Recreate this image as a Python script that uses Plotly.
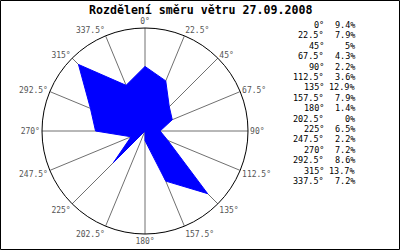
import plotly.graph_objects as go

directions = [0, 22.5, 45, 67.5, 90, 112.5, 135, 157.5, 180, 202.5, 225, 247.5, 270, 292.5, 315, 337.5]
dir_labels = ["0°", "22.5°", "45°", "67.5°", "90°", "112.5°", "135°", "157.5°", "180°", "202.5°",
              "225°", "247.5°", "270°", "292.5°", "315°", "337.5°"]
pct_values = [9.4, 7.9, 5, 4.3, 2.2, 3.6, 12.9, 7.9, 1.4, 0, 6.5, 2.2, 7.2, 8.6, 13.7, 7.2]
pct_labels = ["9.4%", "7.9%", "5%", "4.3%", "2.2%", "3.6%", "12.9%", "7.9%", "1.4%", "0%",
              "6.5%", "2.2%", "7.2%", "8.6%", "13.7%", "7.2%"]
title_text = "Rozdělení směru větru 27.09.2008"

W, H = 400, 250
fig = go.Figure()
fig.add_trace(go.Scatterpolar(
    r=pct_values + [pct_values[0]],
    theta=directions + [directions[0]],
    mode="lines",
    fill="toself",
    fillcolor="#0000ff",
    line=dict(color="#0000ff", width=1),
    hoverinfo="skip",
))

mono = "DejaVu Sans Mono"
fig.update_layout(
    width=W, height=H,
    margin=dict(l=0, r=0, t=0, b=0),
    paper_bgcolor="white",
    plot_bgcolor="white",
    showlegend=False,
    polar=dict(
        domain=dict(x=[42 / W, 248 / W], y=[1 - 234 / H, 1 - 28 / H]),
        bgcolor="white",
        radialaxis=dict(range=[0, 15], visible=False, showgrid=False),
        angularaxis=dict(
            direction="clockwise", rotation=90,
            tickmode="array", tickvals=directions, ticktext=dir_labels,
            showgrid=True, gridcolor="#707070", gridwidth=1,
            showline=True, linecolor="black", linewidth=1,
            ticks="", tickfont=dict(family=mono, size=8, color="#555555"),
        ),
    ),
)

fig.add_annotation(x=200 / W, y=1 - 10 / H, xref="paper", yref="paper",
                   text="<b>" + title_text + "</b>", showarrow=False,
                   font=dict(family=mono, size=11.6, color="black"),
                   xanchor="center", yanchor="middle")

row0, step = 25, 10.4
for i, (d, p) in enumerate(zip(dir_labels, pct_labels)):
    y = 1 - (row0 + i * step) / H
    fig.add_annotation(x=326 / W, y=y, xref="paper", yref="paper", text=d, showarrow=False,
                       font=dict(family=mono, size=8.5, color="black"),
                       xanchor="right", yanchor="middle")
    fig.add_annotation(x=357 / W, y=y, xref="paper", yref="paper", text=p, showarrow=False,
                       font=dict(family=mono, size=8.5, color="black"),
                       xanchor="right", yanchor="middle")

fig.add_shape(type="rect", xref="paper", yref="paper",
              x0=0.5 / W, x1=1 - 0.5 / W, y0=0.5 / H, y1=1 - 0.5 / H,
              line=dict(color="black", width=1))

fig.write_html("out.html")
